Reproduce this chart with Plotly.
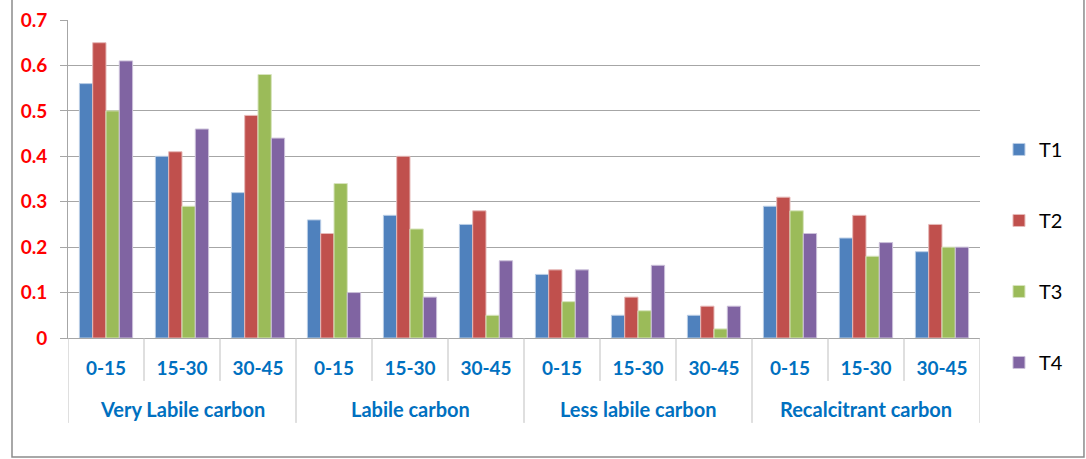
import plotly.graph_objects as go

groups = ["Very Labile carbon", "Labile carbon", "Less labile carbon", "Recalcitrant carbon"]
depths = ["0-15", "15-30", "30-45"]
series_names = ["T1", "T2", "T3", "T4"]

t1 = [0.56, 0.40, 0.32, 0.26, 0.27, 0.25, 0.14, 0.05, 0.05, 0.29, 0.22, 0.19]
t2 = [0.65, 0.41, 0.49, 0.23, 0.40, 0.28, 0.15, 0.09, 0.07, 0.31, 0.27, 0.25]
t3 = [0.50, 0.29, 0.58, 0.34, 0.24, 0.05, 0.08, 0.06, 0.02, 0.28, 0.18, 0.20]
t4 = [0.61, 0.46, 0.44, 0.10, 0.09, 0.17, 0.15, 0.16, 0.07, 0.23, 0.21, 0.20]

y_ticks = [0, 0.1, 0.2, 0.3, 0.4, 0.5, 0.6, 0.7]
y_ticklabels = ["0", "0.1", "0.2", "0.3", "0.4", "0.5", "0.6", "0.7"]

colors = ["#4F81BD", "#C0504D", "#9BBB59", "#8064A2"]
edges = ["#B9CDE5", "#E6B9B8", "#D7E4BD", "#CCC1DA"]
label_blue = "#0070C0"
divider = "#BFBFBF"

# one slot per (group, depth) pair
depth_labels = [d for _ in groups for d in depths]
slots = list(range(len(depth_labels)))
n_sub = len(depths)

fig = go.Figure()
for i, (name, vals) in enumerate(zip(series_names, [t1, t2, t3, t4])):
    fig.add_trace(go.Bar(
        x=slots, y=vals, name=name,
        marker=dict(color=colors[i], line=dict(color=edges[i], width=1)),
        legendgroup=name,
    ))

fig.update_layout(
    width=1086, height=459,
    margin=dict(l=68, r=106, t=20, b=121, autoexpand=False),
    paper_bgcolor="white", plot_bgcolor="white",
    barmode="group", bargap=0.3, bargroupgap=0,
    showlegend=True,
    legend=dict(x=1.0208, y=0.258, xanchor="left", yanchor="middle",
                font=dict(family="Lato", size=20, color="black"),
                tracegroupgap=42, itemwidth=30),
    font=dict(family="Lato"),
)
fig.update_yaxes(
    range=[0, 0.7], tickvals=y_ticks, ticktext=y_ticklabels,
    showgrid=True, gridcolor="#A6A6A6", gridwidth=1,
    showline=True, linecolor="#A6A6A6", linewidth=1,
    ticks="outside", ticklen=7, tickcolor="#A6A6A6",
    ticklabelstandoff=9,
    tickfont=dict(family="Lato", size=19, color="#FF0000", weight="bold"),
    zeroline=False,
)
fig.update_xaxes(
    range=[-0.5, len(slots) - 0.5],
    tickvals=slots, ticktext=depth_labels,
    showline=True, linecolor="#A6A6A6", linewidth=1,
    ticks="", ticklabelstandoff=13,
    tickfont=dict(family="Lato", size=19, color=label_blue, weight="bold"),
    showgrid=False, zeroline=False,
)

# depth dividers (short) and group dividers (long) below the axis
for k in range(len(slots) + 1):
    edge = k - 0.5
    long_line = (k % n_sub == 0)
    fig.add_shape(type="line", xref="x", yref="paper",
                  x0=edge, x1=edge, y0=0, y1=-0.267 if long_line else -0.135,
                  line=dict(color=divider, width=1))

# group names under the depth labels
for gi, g in enumerate(groups):
    fig.add_annotation(x=gi * n_sub + (n_sub - 1) / 2, y=-0.2248,
                       xref="x", yref="paper", text=g, showarrow=False,
                       xanchor="center", yanchor="middle",
                       font=dict(family="Lato", size=20, color=label_blue, weight="bold"))

# chart-area frame
fig.add_shape(type="rect", xref="paper", yref="paper",
              x0=-0.0614, x1=1.114, y0=-0.3742, y1=1.07,
              line=dict(color="#8C8C8C", width=1.5), fillcolor="rgba(0,0,0,0)")

fig.write_html("out.html")
